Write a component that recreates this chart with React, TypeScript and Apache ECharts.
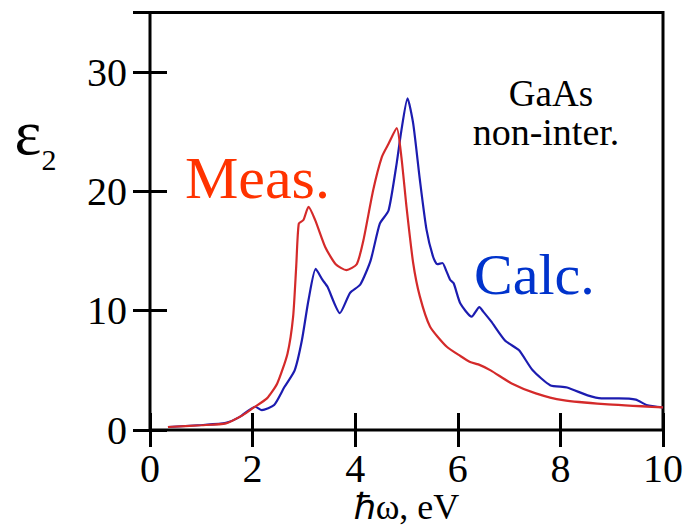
import React, { useEffect, useRef } from "react";
import * as echarts from "echarts";

// Measured ε2 (red)
const measX = [0.35, 1.0, 1.48, 1.81, 2.01, 2.28, 2.48, 2.68, 2.79, 2.85, 2.9, 2.99, 3.09, 3.22, 3.42, 3.62, 3.83, 4.03, 4.16, 4.35, 4.52, 4.65, 4.81, 4.9, 5.0, 5.13, 5.26, 5.46, 5.78, 6.05, 6.24, 6.4, 6.64, 7.05, 7.52, 8.05, 8.86, 10.0];
const measY = [0.25, 0.4, 0.56, 1.25, 1.85, 2.65, 3.9, 6.4, 9.5, 13.7, 17.3, 17.6, 18.7, 17.6, 15.3, 13.9, 13.4, 13.9, 15.9, 20.1, 22.9, 24.0, 25.3, 22.9, 18.7, 14.0, 11.2, 8.66, 7.0, 6.2, 5.7, 5.5, 5.0, 3.9, 3.07, 2.5, 2.17, 1.9];

// Calculated ε2 (blue)
const calcX = [0.35, 1.01, 1.48, 1.75, 2.05, 2.18, 2.42, 2.62, 2.82, 2.96, 3.09, 3.23, 3.36, 3.46, 3.7, 3.9, 4.1, 4.3, 4.48, 4.65, 4.81, 4.9, 5.02, 5.13, 5.26, 5.39, 5.52, 5.6, 5.7, 5.78, 5.85, 5.92, 6.05, 6.27, 6.42, 6.5, 6.65, 6.92, 7.19, 7.46, 7.8, 8.13, 8.53, 8.8, 9.14, 9.47, 9.68, 10.0];
const calcY = [0.25, 0.42, 0.6, 1.1, 1.95, 1.67, 2.1, 3.6, 5.0, 7.5, 10.9, 13.5, 12.6, 12.0, 9.8, 11.5, 12.2, 14.2, 17.3, 18.4, 22.4, 25.1, 27.8, 25.7, 21.0, 16.8, 14.5, 13.9, 14.0, 13.3, 12.6, 12.3, 10.6, 9.5, 10.3, 9.9, 9.1, 7.5, 6.7, 5.0, 3.76, 3.56, 2.9, 2.65, 2.65, 2.55, 2.1, 1.9];

const xTicks = { min: 0, max: 10, interval: 2 };
const yTicks = { min: 0, max: 35, interval: 10 };

const FONT = "Liberation Serif";

export default function App() {
  const ref = useRef<HTMLDivElement>(null);
  useEffect(() => {
    if (!ref.current) return;
    const chart = echarts.init(ref.current, undefined, { renderer: "svg" });
    const tick = { show: true, inside: true, length: 17, lineStyle: { color: "#000", width: 3 } };
    chart.setOption({
      animation: false,
      backgroundColor: "#fff",
      textStyle: { fontFamily: FONT },
      grid: {
        left: 150,
        right: 24,
        top: 12.5,
        bottom: 98,
        show: true,
        borderColor: "#000",
        borderWidth: 3,
        backgroundColor: "transparent",
        containLabel: false,
        outerBoundsMode: "none",
      },
      xAxis: [
        {
          type: "value",
          ...xTicks,
          position: "bottom",
          splitLine: { show: false },
          axisLine: { show: false },
          axisTick: tick,
          axisLabel: { color: "#000", fontSize: 40, fontFamily: FONT, margin: 18 },
          name: "ℏω, eV",
          nameLocation: "middle",
          nameGap: 59,
          nameMoveOverlap: false,
          nameTextStyle: { color: "#000", fontSize: 36, fontFamily: FONT },
        },
        {
          type: "value",
          ...xTicks,
          position: "top",
          splitLine: { show: false },
          axisLine: { show: false },
          axisTick: tick,
          axisLabel: { show: false },
        },
      ],
      yAxis: [
        {
          type: "value",
          ...yTicks,
          position: "left",
          splitLine: { show: false },
          axisLine: { show: false },
          axisTick: tick,
          axisLabel: {
            color: "#000",
            fontSize: 40,
            fontFamily: FONT,
            margin: 23,
            showMaxLabel: false,
            formatter: (v: number) => (v === yTicks.max ? "" : String(v)),
          },
        },
        {
          type: "value",
          ...yTicks,
          position: "right",
          splitLine: { show: false },
          axisLine: { show: false },
          axisTick: tick,
          axisLabel: { show: false },
        },
      ],
      series: [
        {
          name: "Calc.",
          type: "line",
          data: calcX.map((x, i) => [x, calcY[i]]),
          showSymbol: false,
          smooth: 0.2,
          lineStyle: { color: "#1c1cb0", width: 2.2 },
        },
        {
          name: "Meas.",
          type: "line",
          data: measX.map((x, i) => [x, measY[i]]),
          showSymbol: false,
          smooth: 0.2,
          lineStyle: { color: "#d42a2a", width: 2.2 },
        },
      ],
      graphic: [
        { type: "text", style: { x: 28, y: 132, text: "ε", fontSize: 64, fontFamily: FONT, fill: "#000", textAlign: "center", textVerticalAlign: "middle" } },
        { type: "text", style: { x: 49, y: 159, text: "2", fontSize: 30, fontFamily: FONT, fill: "#000", textAlign: "center", textVerticalAlign: "middle" } },
        { type: "text", style: { x: 185, y: 178, text: "Meas.", fontSize: 60, fontFamily: FONT, fill: "#ff3300", textAlign: "left", textVerticalAlign: "middle" } },
        { type: "text", style: { x: 474, y: 274, text: "Calc.", fontSize: 58, fontFamily: FONT, fill: "#0033cc", textAlign: "left", textVerticalAlign: "middle" } },
        { type: "text", style: { x: 551, y: 93, text: "GaAs", fontSize: 37, fontFamily: FONT, fill: "#000", textAlign: "center", textVerticalAlign: "middle" } },
        { type: "text", style: { x: 546, y: 132, text: "non-inter.", fontSize: 38, fontFamily: FONT, fill: "#000", textAlign: "center", textVerticalAlign: "middle" } },
      ],
    });
    return () => chart.dispose();
  }, []);
  return <div ref={ref} style={{ width: 687, height: 528, position: "absolute", left: 0, top: 0 }} />;
}
